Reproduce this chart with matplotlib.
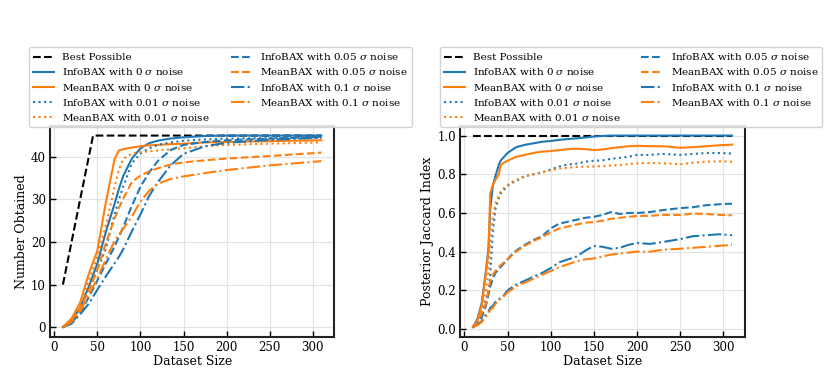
"""Number obtained / posterior Jaccard index vs dataset size for InfoBAX and MeanBAX."""

import matplotlib
import numpy as np

matplotlib.use("Agg")
import matplotlib.pyplot as plt

BLUE = "#1f77b4"
ORANGE = "#ff7f0e"

NOISE_LEVELS = ["0", "0.01", "0.05", "0.1"]
LINESTYLES = ["-", ":", "--", "-."]

# ---- left panel: Number Obtained ----
LEFT_X = [10, 20, 30, 40, 50, 60, 70, 75, 80, 90, 100, 110, 120, 135, 150, 175, 200, 250, 310]
LEFT_BEST_X = [10, 45, 310]
LEFT_BEST_Y = [10, 45, 45]

LEFT_INFO_0 = [0, 1.5, 4.5, 9.5, 15, 22.5, 29, 32.5, 35.5, 39.6, 42, 43.2, 43.8, 44.3, 44.6, 44.9, 45, 45, 45]
LEFT_MEAN_0 = [0, 2, 5.8, 12.5, 18, 29.5, 39.5, 41.5, 41.8, 42.2, 42.5, 42.7, 42.8, 43, 43.1, 43.4, 43.5, 43.7, 43.9]
LEFT_INFO_001 = [0, 1.2, 4.3, 9, 13.5, 18.5, 26.5, 30, 33, 38.5, 40.8, 42, 42.8, 43.4, 43.8, 44.1, 44.3, 44.4, 44.5]
LEFT_MEAN_001 = [0, 1.8, 5.3, 11, 16.5, 24, 33, 37, 39.5, 40.8, 41.1, 41.3, 41.5, 41.8, 42, 42.5, 42.8, 43.1, 43.4]
LEFT_INFO_005 = [0, 1, 3.5, 7, 11, 15, 19, 21.2, 23.5, 28.5, 33, 36.3, 39, 41.6, 42.8, 43.5, 43.9, 44.3, 44.7]
LEFT_MEAN_005 = [0, 1.5, 4.5, 8.5, 13.5, 19.8, 25.5, 28, 30.2, 34.1, 35.6, 36.6, 37.3, 38.2, 38.7, 39.2, 39.6, 40.2, 41]
LEFT_INFO_01 = [0, 0.8, 3, 5.5, 8.8, 12, 15, 16.5, 18.3, 22.5, 26.5, 30.8, 34, 38, 40.7, 42.5, 43.3, 44, 44.5]
LEFT_MEAN_01 = [0, 1.2, 3.8, 7.5, 11.5, 16, 20.3, 21.7, 23.1, 26, 29.5, 32, 33.7, 34.8, 35.4, 36.2, 36.9, 38, 39]

# ---- right panel: Posterior Jaccard Index ----
RIGHT_X = [10, 15, 20, 25, 28, 30, 33, 36, 40, 42, 46, 50, 55, 60, 70, 80, 90, 100, 110, 120,
           130, 140, 150, 160, 170, 180, 190, 200, 215, 230, 250, 265, 280, 295, 310]
RIGHT_BEST_X = [10, 310]
RIGHT_BEST_Y = [1.0, 1.0]

RIGHT_INFO_0 = [0.01, 0.05, 0.13, 0.30, 0.42, 0.62, 0.74, 0.79, 0.85, 0.87, 0.89, 0.91, 0.925, 0.94,
                0.952, 0.96, 0.968, 0.972, 0.978, 0.982, 0.986, 0.99, 0.995, 0.998, 1.0, 1.0, 1.0,
                1.0, 1.0, 1.0, 1.0, 1.0, 1.0, 1.0, 1.0]
RIGHT_MEAN_0 = [0.01, 0.04, 0.12, 0.29, 0.40, 0.70, 0.745, 0.77, 0.80, 0.848, 0.86, 0.87, 0.88, 0.89,
                0.90, 0.91, 0.917, 0.92, 0.925, 0.93, 0.932, 0.93, 0.925, 0.928, 0.935, 0.94, 0.945,
                0.947, 0.945, 0.945, 0.937, 0.94, 0.945, 0.95, 0.953]
RIGHT_INFO_001 = [0.01, 0.03, 0.08, 0.15, 0.20, 0.28, 0.50, 0.62, 0.68, 0.70, 0.72, 0.74, 0.755, 0.765,
                  0.79, 0.80, 0.81, 0.825, 0.84, 0.85, 0.855, 0.865, 0.87, 0.872, 0.88, 0.885, 0.89,
                  0.90, 0.90, 0.905, 0.90, 0.905, 0.91, 0.91, 0.907]
RIGHT_MEAN_001 = [0.01, 0.04, 0.10, 0.20, 0.30, 0.45, 0.58, 0.65, 0.69, 0.71, 0.73, 0.745, 0.76, 0.77,
                  0.79, 0.80, 0.81, 0.82, 0.83, 0.833, 0.838, 0.84, 0.84, 0.843, 0.845, 0.848, 0.852,
                  0.857, 0.858, 0.857, 0.852, 0.86, 0.865, 0.867, 0.865]
RIGHT_INFO_005 = [0.01, 0.03, 0.06, 0.12, 0.18, 0.22, 0.26, 0.29, 0.31, 0.32, 0.34, 0.36, 0.385, 0.405,
                  0.435, 0.46, 0.48, 0.52, 0.545, 0.555, 0.565, 0.575, 0.58, 0.59, 0.605, 0.595, 0.60,
                  0.60, 0.605, 0.615, 0.625, 0.63, 0.64, 0.645, 0.648]
RIGHT_MEAN_005 = [0.01, 0.04, 0.08, 0.13, 0.20, 0.25, 0.28, 0.30, 0.32, 0.33, 0.345, 0.36, 0.38, 0.40,
                  0.43, 0.455, 0.475, 0.50, 0.52, 0.53, 0.54, 0.55, 0.553, 0.56, 0.57, 0.575, 0.58,
                  0.585, 0.585, 0.59, 0.59, 0.597, 0.595, 0.59, 0.588]
RIGHT_INFO_01 = [0.01, 0.02, 0.04, 0.075, 0.09, 0.11, 0.12, 0.14, 0.155, 0.16, 0.175, 0.20, 0.215, 0.23,
                 0.25, 0.27, 0.29, 0.315, 0.345, 0.36, 0.375, 0.405, 0.43, 0.425, 0.415, 0.42, 0.435,
                 0.445, 0.44, 0.45, 0.465, 0.48, 0.485, 0.49, 0.485]
RIGHT_MEAN_01 = [0.01, 0.02, 0.035, 0.065, 0.08, 0.10, 0.11, 0.13, 0.15, 0.155, 0.17, 0.19, 0.205, 0.22,
                 0.24, 0.26, 0.28, 0.30, 0.32, 0.335, 0.35, 0.36, 0.365, 0.375, 0.385, 0.39, 0.395,
                 0.40, 0.40, 0.41, 0.415, 0.42, 0.425, 0.43, 0.435]

LEFT_SERIES = [(LEFT_INFO_0, LEFT_MEAN_0), (LEFT_INFO_001, LEFT_MEAN_001),
               (LEFT_INFO_005, LEFT_MEAN_005), (LEFT_INFO_01, LEFT_MEAN_01)]
RIGHT_SERIES = [(RIGHT_INFO_0, RIGHT_MEAN_0), (RIGHT_INFO_001, RIGHT_MEAN_001),
                (RIGHT_INFO_005, RIGHT_MEAN_005), (RIGHT_INFO_01, RIGHT_MEAN_01)]


def _style(ax):
    ax.grid(color="#e3e3e3", lw=0.8)
    ax.set_axisbelow(True)
    ax.tick_params(direction="in", length=4, width=1.0, labelsize=8.5, pad=3)
    for sp in ax.spines.values():
        sp.set_color("#222222")
        sp.set_linewidth(1.5)


def _panel(ax, x, best_x, best_y, series, ylabel, yticks):
    ax.plot(best_x, best_y, ls="--", color="black", lw=1.5, label="Best Possible", zorder=1)
    xs = np.asarray(x, dtype=float)
    for (info, mean), noise, ls in zip(series, NOISE_LEVELS, LINESTYLES):
        ax.plot(xs, info, ls=ls, color=BLUE, lw=1.5, label=f"InfoBAX with {noise} $\\sigma$ noise")
        ax.plot(xs, mean, ls=ls, color=ORANGE, lw=1.5, label=f"MeanBAX with {noise} $\\sigma$ noise")
    ax.set_xlabel("Dataset Size", fontsize=9, labelpad=1)
    ax.set_ylabel(ylabel, fontsize=9, labelpad=2)
    ax.set_xticks([0, 50, 100, 150, 200, 250, 300])
    ax.set_yticks(yticks)
    _style(ax)
    handles, labels = ax.get_legend_handles_labels()
    leg = ax.legend(handles, labels, ncol=2, loc="lower center", bbox_to_anchor=(0.6, 0.995),
                    borderaxespad=0, fontsize=7.5, columnspacing=2.0, handlelength=2.0,
                    labelspacing=0.4, framealpha=0.85, edgecolor="#cccccc")
    leg.set_zorder(10)


def main() -> None:
    plt.rcParams["font.family"] = "DejaVu Serif"
    plt.rcParams["mathtext.fontset"] = "dejavuserif"

    fig = plt.figure(figsize=(8.3, 3.83), dpi=100)
    ax1 = fig.add_axes([50 / 830, 46.3 / 383, 284.3 / 830, 210.7 / 383])
    ax2 = fig.add_axes([460 / 830, 46.3 / 383, 285 / 830, 210.7 / 383])

    _panel(ax1, LEFT_X, LEFT_BEST_X, LEFT_BEST_Y, LEFT_SERIES, "Number Obtained", [0, 10, 20, 30, 40])
    _panel(ax2, RIGHT_X, RIGHT_BEST_X, RIGHT_BEST_Y, RIGHT_SERIES, "Posterior Jaccard Index",
           [0.0, 0.2, 0.4, 0.6, 0.8, 1.0])

    fig.savefig("out.png", dpi=100)
    plt.close(fig)


if __name__ == "__main__":
    main()
